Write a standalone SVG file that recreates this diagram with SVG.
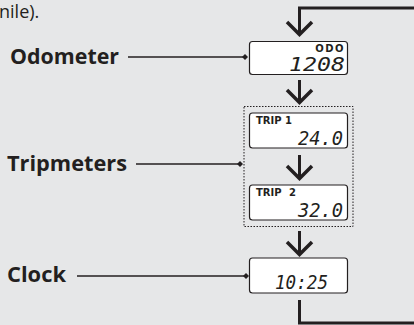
<svg xmlns="http://www.w3.org/2000/svg" width="414" height="325" viewBox="0 0 414 325">
<style>
.lbl{font-family:"Open Sans","Noto Sans",sans-serif;font-weight:700;font-size:21px;fill:#231f20}
.box{fill:#fff;stroke:#231f20;stroke-width:1.2}
.tag{font-family:"DejaVu Sans",sans-serif;font-weight:700;font-size:10px;fill:#231f20}
.dig{font-family:"DejaVu Sans Mono",monospace;font-style:italic;font-size:20px;fill:#231f20}
.lead{stroke:#231f20;stroke-width:1.3;fill:none}
.flow{stroke:#231f20;stroke-width:3;fill:none}
.arr{stroke:#231f20;stroke-width:3.5;fill:none;stroke-linejoin:miter}
</style>
<defs>
<marker id="dia" markerWidth="8" markerHeight="8" refX="4" refY="4" markerUnits="userSpaceOnUse" orient="auto">
<path d="M1,4 L4,1 L7,4 L4,7 Z" fill="#231f20"/>
</marker>
</defs>
<rect width="414" height="325" fill="#e6e7e8"/>
<text x="-1" y="18" font-family="Open Sans, sans-serif" font-size="18" fill="#231f20">nile).</text>
<g id="connectors">
<path class="flow" d="M414,8 H299.5 V33"/>
<path class="arr" d="M287,22 L299.5,34.5 L312,22"/>
<path class="flow" d="M299.5,80 V102"/>
<path class="arr" d="M287,90 L299.5,102.5 L312,90"/>
<path class="flow" d="M299.5,155 V177"/>
<path class="arr" d="M287,166 L299.5,178.5 L312,166"/>
<path class="flow" d="M299.5,231 V253"/>
<path class="arr" d="M287,242 L299.5,254.5 L312,242"/>
<path class="flow" d="M299.5,300 V323 H414"/>
<path class="lead" d="M128,57 H245" marker-end="url(#dia)"/>
<path class="lead" d="M136,164 H240" marker-end="url(#dia)"/>
<path class="lead" d="M77,276 H246" marker-end="url(#dia)"/>
</g>
<g id="odometer">
<text class="lbl" x="10" y="64" textLength="109" lengthAdjust="spacingAndGlyphs">Odometer</text>
<rect class="box" x="249.5" y="41.5" width="98" height="33" rx="3"/>
<text class="tag" x="345" y="51.5" text-anchor="end" letter-spacing="1.5">ODO</text>
<text class="dig" x="289" y="71" textLength="56" lengthAdjust="spacingAndGlyphs">1208</text>
</g>
<g id="tripmeters">
<text class="lbl" x="7" y="171" textLength="120" lengthAdjust="spacingAndGlyphs">Tripmeters</text>
<rect x="244" y="106.5" width="109" height="120" fill="none" stroke="#231f20" stroke-width="1" stroke-dasharray="1.5,1.5"/>
<g id="trip1">
<rect class="box" x="249.5" y="113" width="98" height="35" rx="3"/>
<text class="tag" x="256" y="123.5">TRIP 1</text>
<text class="dig" x="298" y="145" textLength="45" lengthAdjust="spacingAndGlyphs">24.0</text>
</g>
<g id="trip2">
<rect class="box" x="249.5" y="185" width="98" height="35" rx="3"/>
<text class="tag" x="256" y="195.5" word-spacing="4">TRIP 2</text>
<text class="dig" x="298" y="217" textLength="45" lengthAdjust="spacingAndGlyphs">32.0</text>
</g>
</g>
<g id="clock">
<text class="lbl" x="7" y="282" textLength="59" lengthAdjust="spacingAndGlyphs">Clock</text>
<rect class="box" x="249.5" y="258" width="98" height="35" rx="3"/>
<text class="dig" x="275" y="289" textLength="53" lengthAdjust="spacingAndGlyphs">10:25</text>
</g>
</svg>
